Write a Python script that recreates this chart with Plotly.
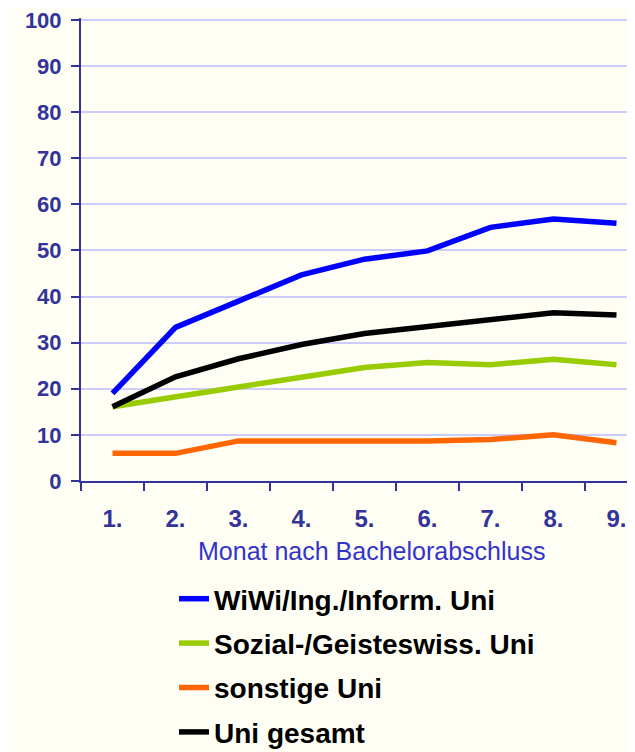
import plotly.graph_objects as go

months = ["1.", "2.", "3.", "4.", "5.", "6.", "7.", "8.", "9."]
y_ticks = [0, 10, 20, 30, 40, 50, 60, 70, 80, 90, 100]

series_names = ["WiWi/Ing./Inform. Uni", "Sozial-/Geisteswiss. Uni", "sonstige Uni", "Uni gesamt"]
wiwi = [19.0, 33.3, 39.0, 44.7, 48.1, 49.9, 55.0, 56.8, 55.9]
sozial = [16.1, 18.4, 20.4, 22.5, 24.6, 25.7, 25.2, 26.4, 25.2]
sonstige = [6.0, 6.0, 8.7, 8.7, 8.7, 8.7, 9.0, 10.0, 8.3]
gesamt = [16.1, 22.6, 26.5, 29.6, 32.0, 33.5, 35.1, 36.5, 36.0]
colors = ["#0000ff", "#99cc00", "#ff6600", "#000000"]

x_title = "Monat nach Bachelorabschluss"

AXIS = "#333399"
BG = "#fefef4"
FONT = "Liberation Sans, Arial, sans-serif"

# page body has an 8px margin; figure is sized/offset to compensate
fig = go.Figure()
for name, vals, col in zip(series_names, [wiwi, sozial, sonstige, gesamt], colors):
    fig.add_trace(go.Scatter(
        x=months, y=vals, mode="lines", name=name, legendgroup=name,
        line=dict(color=col, width=5.5),
    ))

fig.update_layout(
    width=627, height=744,
    margin=dict(l=73, r=0, t=10, b=271, autoexpand=False),
    paper_bgcolor=BG, plot_bgcolor=BG,
    font=dict(family=FONT),
    showlegend=True,
    legend=dict(
        x=(174 - 81) / 554, xanchor="left",
        y=-(574 - 481) / 463, yanchor="top",
        font=dict(size=28, color="#000000", family=FONT, weight="bold"),
        tracegroupgap=5, bgcolor="rgba(0,0,0,0)",
    ),
    xaxis=dict(
        type="category", range=[-0.5, 8.294], automargin=False,
        showgrid=False, showline=True, linecolor=AXIS, linewidth=2,
        ticks="outside", tickson="boundaries", ticklen=8, tickwidth=2, tickcolor=AXIS,
        tickfont=dict(size=24, color=AXIS, family=FONT, weight="bold"),
        ticklabelstandoff=15, ticklabeloverflow="allow",
        zeroline=False,
    ),
    yaxis=dict(
        range=[0, 100.4], tickvals=y_ticks, automargin=False,
        showgrid=True, gridcolor="#ccccff", gridwidth=2,
        showline=True, linecolor=AXIS, linewidth=2,
        ticks="outside", ticklen=8, tickwidth=2, tickcolor=AXIS,
        tickfont=dict(size=22, color=AXIS, family=FONT, weight="bold"),
        ticklabelstandoff=5, ticklabeloverflow="allow",
        zeroline=False,
    ),
    annotations=[dict(
        text=x_title, xref="paper", yref="paper",
        x=(371 - 81) / 554, y=-(551 - 481) / 463,
        xanchor="center", yanchor="middle", showarrow=False,
        font=dict(size=25, color="#3333cc", family=FONT),
    )],
)

fig.write_html("out.html")
